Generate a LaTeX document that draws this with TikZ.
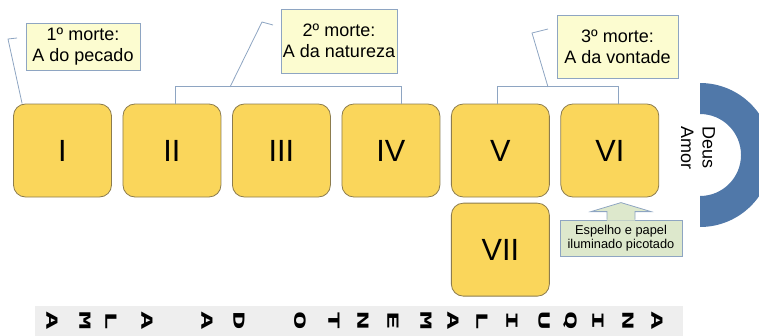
\documentclass[tikz,border=0pt]{standalone}
\usepackage{fontspec}
\setmainfont{Liberation Sans}
\newfontfamily\stripfont{DejaVu Sans Mono}
\usetikzlibrary{calc, positioning}
\definecolor{xyellow}{HTML}{FAD65B}
\definecolor{xedge}{HTML}{8C7C4E}
\definecolor{xnote}{HTML}{FCFCD0}
\definecolor{xline}{HTML}{8EA5C2}
\definecolor{xgreen}{HTML}{DDE8CC}
\definecolor{xblue}{HTML}{5078A9}
\definecolor{xstrip}{HTML}{EEEEEE}
\tikzset{
	roman/.style = {draw=xedge, fill=xyellow, line width=0.6pt, rounded corners=9pt,
		minimum width=73.5pt, minimum height=69.75pt, inner sep=0pt,
		font=\fontsize{23}{27}\selectfont},
	note/.style = {draw=xline, fill=#1, line width=0.6pt, align=center, inner sep=0pt,
		font=\fontsize{13.5}{15.5}\selectfont},
	pointer/.style = {xline, line width=0.6pt},
	letter/.style = {rotate=-90, inner sep=0pt, font=\stripfont\bfseries\fontsize{11.5}{12}\selectfont},
}

\begin{document}
\begin{tikzpicture}[x=0.75pt, y=-0.75pt]
	\useasboundingbox (0,0) rectangle (759,335);
	% the seven boxes
	\node[roman] (b1) at (62.5,150.5) {I};
	\node[roman, right=8pt of b1] (b2) {II};
	\node[roman, right=8pt of b2] (b3) {III};
	\node[roman, right=8pt of b3] (b4) {IV};
	\node[roman, right=8pt of b4] (b5) {V};
	\node[roman, right=8pt of b5] (b6) {VI};
	\node[roman, below=4pt of b5] (b7) {VII};
	% callouts
	\node[note=xnote, minimum width=85.5pt, minimum height=35.25pt] (c1) at (83,46.5) {1º morte:\\A do pecado};
	\node[note=xnote, minimum width=87pt, minimum height=48pt] (c2) at (339,41) {2º morte:\\A da natureza};
	\node[note=xnote, minimum width=90.75pt, minimum height=47.25pt] (c3) at (617.5,46.5) {3º morte:\\A da vontade};
	\draw[pointer] ($(b2.north)+(3,0)$) -- ++(0,-17) -| ($(b4.north)+(10,0)$);
	\draw[pointer] ($(b5.north)+(-3,0)$) -- ++(0,-17) -| ($(b6.north)+(9,0)$);
	\coordinate (p1) at (17,38);
	\coordinate (q1) at (8,39);
	\coordinate (p2) at (273,25);
	\coordinate (q2) at (262,22);
	\coordinate (k2) at (230,87);
	\coordinate (p3) at (548,29);
	\coordinate (q3) at (532,33);
	\coordinate (k3) at (548,87);
	\draw[pointer] (p1) -- (q1) -- ($(b1.north west)+(9,0)$);
	\draw[pointer] (p2) -- (q2) -- (k2);
	\draw[pointer] (p3) -- (q3) -- (k3);
	% mirror note with arrow
	\node[note=xgreen, minimum width=91.5pt, minimum height=27pt,
		font=\fontsize{9.6}{10.5}\selectfont] (espelho) at (621,238) {Espelho e papel\\iluminado picotado};
	\fill[xgreen] ($(espelho.north)+(-14,1)$) -- ++(0,-9) -- ++(-16,0) -- ($(espelho.north)+(0,-17)$)
		-- ($(espelho.north)+(30,-8)$) -- ++(-16,0) -- ++(0,9) -- cycle;
	\draw[pointer] ($(espelho.north)+(-14,0)$) -- ++(0,-8) -- ++(-16,0) -- ($(espelho.north)+(0,-17)$)
		-- ($(espelho.north)+(30,-8)$) -- ++(-16,0) -- ++(0,8);
	% Deus Amor
	\begin{scope}
		\clip (0,0) rectangle (759,335);
		\fill[xblue] (700,83) arc[start angle=-90, end angle=90, radius=72]
			-- (700,196) arc[start angle=90, end angle=-90, radius=41] -- cycle;
	\end{scope}
	\node[rotate=-90, align=left, inner sep=0pt, font=\fontsize{13.5}{16}\selectfont] (deus) at (698,148) {Deus\\Amor};
	% strip
	\fill[xstrip] (35,306) rectangle (683,336);
	\foreach \px/\ch in {52/A,85/M,111/L,147/A,207/A,239/D,300/O,334/T,363/N,393/E,426/M,453/A,482/L,512/I,544/U,570/Q,598/I,628/N,657/A}
		\node[letter] (l\px) at (\px,321) {\scalebox{2}[1]{\ch}};
\end{tikzpicture}
\end{document}
